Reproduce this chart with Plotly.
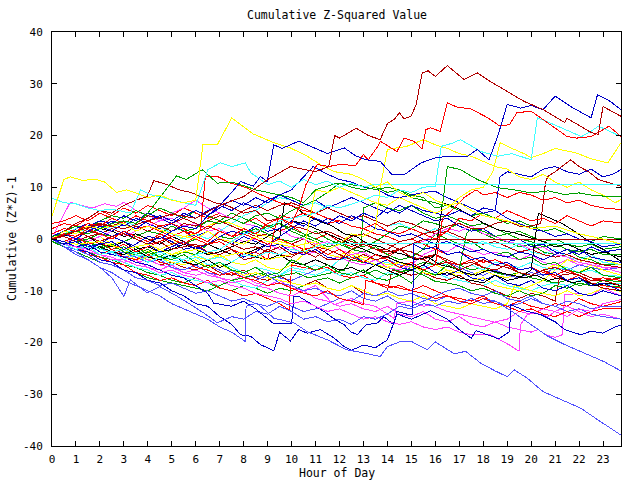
import plotly.graph_objects as go

# ---- colours (gnuplot-like palette) ----
RED = "#ff0000"
GREEN = "#00a000"
BLUE = "#0000c8"
MAGENTA = "#ff40ff"
CYAN = "#40ffff"
DRED = "#b00000"
YELLOW = "#ffff00"
BLACK = "#000000"
LBLUE = "#5050ff"

# ---- axis tick values ----
x_ticks = list(range(0, 24))
y_ticks = [-40, -30, -20, -10, 0, 10, 20, 30, 40]

# ---- series: [hour of day, cumulative (Z*Z)-1] ----
dred_peak = [[0,0],[1,1.5],[2,2.8],[3,2.0],[4,3.5],[5,4.8],[6,4.0],[7,6.5],[8,8.2],[9,11.5],[9.95,14],[10.5,13.4],[11,13],[11.55,14],[11.8,20],[12,19.5],[12.7,21.4],[13.2,20],[13.7,19.2],[14,22.3],[14.3,23.2],[14.5,24.4],[14.7,23.2],[15,23.8],[15.2,26],[15.45,32.1],[15.7,32.5],[16,31.4],[16.5,33.5],[17.2,30.8],[17.75,32.1],[18.2,30.7],[19,28.5],[19.7,26.6],[20.5,25],[21.4,22.5],[21.5,23.3],[22.5,20.6],[22.8,20.2],[23,25.6],[23.75,23.7]]
blue_top = [[0,0],[0.5,-1],[1,-0.5],[1.5,-2],[2,-1],[2.5,-0.5],[3,-2],[3.5,-1],[4,0.5],[4.5,0],[5,1.5],[5.5,2.5],[6,2],[6.5,4.5],[7,6.5],[7.5,9],[7.87,11.1],[8.4,10.2],[8.7,12.1],[8.98,11.1],[9.26,18.2],[9.6,17.5],[10.3,18.9],[10.86,17.8],[11.5,16.5],[12.2,17.6],[12.67,16.1],[13.1,15.3],[13.7,15],[14.2,12.4],[14.7,12.4],[15,13.4],[15.4,14.7],[16,15.7],[16.6,16],[17.35,16],[17.75,17.3],[18.24,15.3],[18.6,19.8],[19,26],[19.56,25.3],[20,25.8],[20.5,25],[21,27.6],[21.65,25.6],[22.5,23.4],[22.77,27.9],[23.3,26.6],[23.75,25]]
red_top = [[0,0],[0.5,1],[1,0.5],[1.5,2],[2,1],[2.5,0],[3,1.5],[3.5,0.5],[4,-0.5],[4.5,1],[5,0],[5.5,-1],[6,0.5],[6.5,-0.5],[7,1.5],[7.5,0.5],[8,2],[8.5,1],[9,3],[9.5,4],[10,3],[10.3,6],[10.6,10.5],[11.07,14.4],[11.55,14],[12,14.4],[12.67,14.2],[13,16.3],[13.2,15.3],[13.6,17.9],[13.7,18.9],[14.4,16.9],[14.7,19.5],[15.1,18.9],[15.45,17.4],[15.6,21.1],[15.8,21.5],[16.2,20.8],[16.5,26.3],[16.9,25.5],[17.5,25.1],[18.2,23.4],[18.7,21.8],[19.1,22.1],[19.4,24.4],[20,24.7],[20.4,23.4],[21.1,21.1],[21.5,19.8],[21.9,19.5],[22.5,19.8],[22.8,20.6],[23.25,21.8],[23.75,19.8]]
cyan_top = [[0,0],[0.5,-1],[1,-2],[1.5,-1.5],[2,-3],[2.5,-2.5],[3,-4],[3.5,-3],[4,-4.5],[4.5,-3.5],[5,-5],[5.5,-4],[6,-3],[7,-2],[7.5,-0.5],[8,1],[9,2],[9.5,3.5],[10,4],[11,5],[11.5,6.5],[12,6],[13,7.5],[13.5,8.5],[14,8],[14.5,9.5],[15,9],[15.5,10],[16,10.2],[16.25,17.9],[16.7,18.5],[17.05,19.2],[17.5,18],[17.9,16.9],[18.6,16],[19.2,16.5],[20,15.3],[20.26,23.4],[20.6,22.8],[21.1,21.8],[21.6,20.8],[22.1,19.8],[22.5,20.8],[22.8,21.8],[23.2,21],[23.75,19.8]]
cyan_flat_hi = [[0,7.9],[0.5,7],[1,6.8],[1.5,6],[2,5.5],[2.5,5.8],[3.27,5],[3.7,9.5],[4.1,8.6],[4.6,8],[5,7.5],[5.5,7],[6,6.5],[6.5,13.4],[7.03,14.7],[7.5,14],[8.07,14.7],[8.3,12.8],[8.7,11.5],[9,10.5],[9.5,11.2],[10,10],[10.5,11.5],[11,10.5],[11.5,11.2],[12,10],[12.5,10.8],[13,10],[13.4,10.5],[23.75,10.5]]
yellow_peak = [[0,4.5],[0.25,8],[0.5,11.5],[0.76,12],[1.3,11.3],[1.8,11.6],[2.2,11],[2.7,9],[3.1,9.5],[3.55,8.8],[4,8],[4.5,8.5],[5,7.5],[5.5,7],[6,7.5],[6.3,18.2],[6.9,18.2],[7.5,23.4],[8.07,21.5],[8.4,20.3],[9.26,18.6],[9.95,17.6],[10.65,16],[11.2,14.4],[11.8,13],[12.5,12.5],[13,11.5],[13.5,10],[14,11],[14.5,9],[15,8],[15.5,9],[16,7.5],[16.5,6.5],[17,7],[17.5,5.5],[18,4.5],[19,3.5],[20,2],[21,2.5],[22,1],[23,0],[23.75,-1]]
yellow_b = [[0,0],[0.5,1.5],[1,1],[1.5,2.5],[2,2],[3,3],[3.5,1.5],[4,2.5],[5,1],[6,0],[6.5,1.5],[7,0],[8,-1],[8.5,0.5],[9,-0.5],[10,-1.5],[11,-0.5],[11.5,-2],[12,-1],[12.5,1],[13,0.5],[13.5,2],[13.7,10],[14,17.3],[14.8,17.9],[15.5,19.2],[16,18.2],[16.5,17.5],[17,16.5],[17.5,16],[18,15],[18.5,14],[19,13.5],[19.5,12],[20,11.5],[20.5,12.5],[21,11],[21.5,10],[22,11],[22.5,9.5],[23,8.5],[23.5,7],[23.75,7.6]]
yellow_c = [[0,0],[1,-1],[2,-0.5],[3,-2],[4,-1],[5,-3],[6,-2],[7,-3.5],[8,-2.5],[9,-4],[10,-3],[10.5,-2.5],[10.8,5],[11,9.5],[11.5,9],[12,10],[12.5,9],[13,8],[13.5,7],[14,6.5],[14.5,8],[15,7],[15.5,6],[16,5],[16.5,6],[17,8],[17.5,9.5],[18,10],[18.4,13],[18.7,18.6],[19.2,17.5],[19.7,16.5],[20,15.7],[20.5,16.5],[21,17.5],[21.5,17],[21.9,16.6],[22.5,15.5],[23.2,14.7],[23.75,18.6]]
green_hi = [[0,0.5],[0.5,1],[1,1.5],[1.5,1],[2,2],[2.5,3],[3,3.5],[3.5,3],[4,5],[4.5,8],[5.2,12.2],[5.6,11.5],[6.27,13.4],[6.9,10.8],[7.5,11],[8.07,10.2],[8.5,9.5],[9,9],[9.5,8.5],[10,8],[10.5,7],[11,9.5],[11.9,10.8],[12.5,10.5],[13,10.2],[13.5,9.5],[14,10],[14.5,9.5],[15,8],[15.5,7.5],[16,7],[16.3,6.5],[16.5,14],[17.05,13.4],[17.75,11.5],[18.6,9.9],[19.3,9.5],[20,8.9],[20.7,9.3],[21.4,8.6],[22,8.9],[22.5,8.5],[23,8.3],[23.75,8.2]]
lblue_bottom = [[0,0],[0.5,-1.5],[1,-3],[1.5,-4],[2,-5.5],[2.5,-6.5],[3,-8],[3.5,-9],[4,-10],[4.5,-11],[5,-12.5],[5.5,-13.5],[6,-14.5],[6.5,-15.5],[7,-17],[7.5,-18],[8.07,-19.8],[8.1,-13],[8.56,-12.4],[9.26,-15.3],[10.1,-16.2],[10.65,-17.9],[11.5,-19.5],[12.3,-21.4],[13,-22],[13.7,-22.7],[14,-20.8],[14.55,-19.8],[15,-19.8],[15.66,-21.4],[16,-19.9],[16.8,-22.2],[17.26,-21.7],[17.9,-24],[18.5,-25.5],[19,-26.6],[19.3,-25.3],[19.84,-26.9],[20.5,-29.5],[21,-30.5],[21.4,-31.4],[22.07,-32.7],[22.77,-34.9],[23.3,-36.5],[23.75,-37.9]]
lblue_second = [[0,0],[0.5,-1.5],[1,-2.5],[1.5,-4],[2,-5.5],[2.5,-7.5],[3,-11.1],[3.27,-7.9],[3.6,-9],[3.97,-10.4],[4.5,-9.2],[5.2,-11],[5.9,-13],[6.4,-14.5],[6.9,-16.2],[7.5,-15],[8,-15.5],[8.5,-14],[9,-14.5],[9.5,-13],[10,-14],[10.5,-15.5],[11,-15],[11.5,-16],[12,-15.5],[12.5,-16.5],[13,-15],[13.5,-15.5],[14,-14.5],[14.5,-13],[15,-13.5],[15.5,-12.5],[16,-13],[16.5,-12],[17,-12.5],[17.5,-11.5],[18,-12.5],[18.5,-12],[19.2,-14],[20,-16.6],[20.7,-18.8],[21.4,-20.4],[22.07,-21.7],[23.04,-23.7],[23.75,-25.5]]
blue_low = [[0,0],[0.5,-1],[1,-2],[1.5,-2.5],[2,-4],[2.5,-4.5],[3,-6],[3.5,-6.5],[4,-8],[4.5,-8.5],[5,-10],[5.5,-11],[6,-12.5],[6.5,-13],[7,-15],[7.5,-16.5],[7.87,-18.5],[8.3,-18.8],[8.7,-20.4],[9.26,-21.6],[9.5,-18],[9.95,-19.7],[10.3,-17.5],[10.65,-18.2],[11.2,-17.5],[11.76,-19.1],[12.2,-20.8],[12.5,-21.5],[13,-20.5],[13.5,-21],[14,-19.5],[14.4,-14.5],[15,-15.5],[15.8,-13.9],[16.5,-15.5],[17,-17.5],[17.5,-19.2],[17.7,-17.7],[18.2,-18.5],[18.65,-19.3],[19.1,-17.9],[19.15,-12.7],[19.84,-14],[20.4,-14.6],[21,-16],[21.4,-17.5],[22.07,-18.5],[22.5,-17.8],[23,-18.2],[23.4,-17.2],[23.75,-16.6]]
blue_mid_low = [[0,0],[0.5,-0.5],[1,-1.5],[1.5,-1],[2,-2.5],[2.5,-3],[3,-3.5],[3.5,-4.5],[4,-5],[4.5,-6],[5,-7],[5.5,-7.5],[6,-9],[6.5,-10.5],[6.75,-12.4],[7.5,-13],[8,-12],[8.5,-13.5],[9.26,-16.4],[10,-16.4],[10.1,-11.1],[10.3,-11.1],[10.8,-12.5],[11.35,-14],[11.8,-15.5],[12.2,-16.6],[12.46,-17.9],[12.74,-18.5],[13.1,-16.6],[13.6,-16.2],[13.85,-15],[14.27,-16.6],[14.4,-14],[14.8,-14.5],[15.05,-14.5],[15.1,-1],[15.5,-2],[16,-1.5],[16.5,-3],[17,-2.5],[17.5,-4],[18,-3.5],[18.5,-5],[19,-4.5],[19.5,-6],[20,-5.5],[20.5,-7],[21,-6.5],[21.5,-8],[22,-7.5],[22.5,-9],[23,-8.5],[23.75,-10]]
magenta_low = [[0,0],[0.5,-1],[1,-1.5],[1.5,-2.5],[2,-3],[2.5,-4],[3,-4],[3.5,-5],[4,-5.5],[4.5,-6.5],[5,-6],[5.5,-7],[6,-7.5],[6.5,-8.5],[7,-8],[7.5,-9],[8,-9.5],[8.5,-10.5],[9,-11],[9.5,-11.5],[10,-12.5],[10.5,-12],[11,-13],[11.5,-14],[12,-13.5],[12.5,-14.5],[13,-15.5],[13.5,-15],[14,-16],[14.5,-16.5],[15,-16],[15.5,-17],[16,-17.5],[16.5,-17],[17,-18],[17.5,-18.5],[18.3,-18.5],[18.7,-19.5],[19.1,-20.5],[19.5,-21.7],[19.55,-16.6],[19.84,-14.6],[20.2,-14.3],[20.7,-15],[21,-14],[21.5,-15],[22,-13.5],[22.5,-14],[23,-12.5],[23.75,-11.7]]
cyan_flat_zero = [[0,0],[0.5,-0.5],[1,-1.5],[1.5,-1],[2,-2],[2.5,-2.5],[3,-2],[3.5,-3],[4,-3.5],[4.5,-2.5],[5,-3.5],[5.5,-4],[6,-3],[6.5,-4],[7,-3.5],[7.5,-4.5],[8,-3],[8.5,-3.5],[9,-2.5],[9.5,-3],[10,-2],[10.5,-2.5],[11,-1.5],[11.5,-0.8],[23.75,-0.8]]
dred_flat_zero = [[0,0],[0.5,0.5],[1,-0.5],[1.5,0.5],[2,1],[2.5,0],[3,1.5],[3.5,0.5],[4,-0.5],[4.5,0.5],[5,-1],[5.5,-0.5],[6,-1.5],[6.5,-1],[7,0],[7.5,-1],[8,-2],[8.5,-1.5],[9,-2.5],[9.5,-1.5],[10,-3],[10.5,-2.5],[11,-3.5],[11.5,-2],[12,-3],[12.5,-4],[13,-3],[13.5,-4],[14,-3.5],[14.5,-2],[15,-1],[15.5,-0.1],[23.75,-0.1]]
blue_end13 = [[0,0],[0.5,-1],[1,0],[1.5,-1.5],[2,-1],[2.5,0.5],[3,-0.5],[3.5,-1.5],[4,-1],[4.5,-2.5],[5,-1.5],[5.5,-0.5],[6,-2],[6.5,-1],[7,0.5],[7.5,1.5],[8,1],[8.5,2.5],[9,1.5],[9.5,2],[10,3.5],[10.5,2.5],[11,4],[11.5,3],[12,4.5],[12.5,3.5],[13,5],[13.5,4],[14,6],[14.5,5],[15,6.5],[15.5,5.5],[16,5],[16.5,4.5],[17,5.5],[17.5,4.5],[18,6],[18.5,5.5],[18.7,12],[19,13],[19.5,12.5],[20,12],[20.5,13.5],[21,14],[21.5,13],[22,12.5],[22.5,13.5],[23,12],[23.4,12.5],[23.75,13.4]]
dred_end10 = [[0,0],[0.5,1],[1,1.5],[1.5,0.5],[2,-0.5],[2.5,0.5],[3,1],[3.5,0],[4,-1],[4.5,-0.5],[5,-2],[5.5,-1.5],[6,-1],[6.5,-2.5],[7,-3],[7.5,-2],[8,-4],[8.5,-3.5],[9,-2],[9.5,-3],[10,-3.5],[10.5,-2],[11,-2.5],[11.5,-4],[12,-4],[12.5,-2],[13,-1],[13.5,-2],[14,-2],[14.5,-0.5],[15,0],[15.5,1],[16,1.5],[16.5,2.5],[17,3],[17.5,2],[18,2],[18.5,3],[19,3.5],[19.5,2.5],[20,2.5],[20.4,3],[20.6,11],[20.7,12.1],[21,13],[21.65,15.3],[22,14],[22.4,13],[22.8,11.5],[23.3,10.8],[23.75,10.2]]
red_end57 = [[0,3],[0.5,3.5],[1,4.5],[1.5,3.5],[2,5],[2.5,4],[3,3],[3.5,4.5],[4,3.5],[4.5,2.5],[5,3],[5.5,2],[6,1],[6.5,2.5],[7,1.5],[7.5,0.5],[8,1],[8.5,0],[9,-1],[9.5,0],[10,-1],[10.5,-2],[11,-1.5],[11.5,-3],[12,-2],[12.5,-3.5],[13,-4.5],[13.5,-3],[14,-4],[14.5,-5.5],[15,-4.5],[15.5,-6],[16,-5],[16.3,4],[16.8,6],[17.2,8],[17.7,9.5],[18,8.5],[18.5,9],[19,8],[19.5,9],[20,8.5],[20.5,7.5],[21,8],[21.5,7],[22,7.5],[22.5,6.5],[23,6],[23.75,5.7]]
red_end3 = [[0,1],[0.5,2],[1,1.5],[1.5,3],[2,2.5],[2.5,4],[3,3],[3.5,2],[4,2.5],[4.5,1.5],[5,0.5],[5.5,1.5],[6,0],[6.5,-1],[7,-0.5],[7.5,-2],[8,-3],[8.5,-2.5],[9,-4],[9.3,2],[9.5,4.5],[10,4],[10.5,5],[11,4],[11.5,3],[12,3.5],[12.5,2.5],[13,2],[13.5,3],[14,1.5],[14.5,1],[15,2],[15.5,1],[16,0],[16.5,1.5],[17,4],[17.5,3.5],[18,5],[18.5,4],[19,5.5],[19.5,4.5],[20,3.5],[20.5,4],[21,3],[21.5,4.5],[22,3.5],[22.5,2.5],[23,3.5],[23.75,3.1]]
green_end_m3 = [[0,-0.5],[0.5,-1],[1,0],[1.5,-0.5],[2,-2],[2.5,-1],[3,-2.5],[3.5,-3],[4,-2],[4.5,-3.5],[5,-4],[5.5,-3],[6,-4.5],[6.5,-5.5],[7,-4.5],[7.5,-6],[8,-6.5],[8.5,-5.5],[9,-7],[9.5,-6.5],[10,-4],[10.5,-5],[11,-6],[11.5,-5],[12,-6.5],[12.5,-7],[13,-6],[13.5,-7.5],[14,-8],[14.5,-7],[15,-8.5],[15.5,-6],[16,-7],[16.5,-5],[17,-6],[17.3,1],[17.5,2],[18,1.5],[18.5,0.5],[19,1],[19.5,0],[20,-0.5],[20.5,-1.5],[21,-1],[21.5,-2],[22,-2.5],[22.5,-2],[23,-3],[23.75,-3]]
black1 = [[0,0],[0.5,0.5],[1,-0.5],[1.5,0.5],[2,-1],[2.5,-1.5],[3,-0.5],[3.5,-2],[4,-1.5],[4.5,-2.5],[5,-2],[5.5,-1],[6,-2],[6.5,-3],[7,-2.5],[7.5,-1.5],[8,-0.5],[8.5,-1],[9,0.5],[9.5,2],[10,3.5],[10.5,3],[11,2],[11.5,1],[12,0],[12.5,-1],[13,-2],[13.5,-3],[14,-3.5],[14.5,-4.5],[15,-5],[15.5,-6],[16,-7],[16.5,-6.5],[17,-7.5],[17.5,-8],[18,-8.5],[18.5,-7],[19,-8],[19.5,-7.5],[20,-6],[20.3,5],[20.8,4],[21.3,3],[21.8,1.5],[22.5,-0.7],[23,-2],[23.5,-3.5],[23.75,-4.3]]
black2 = [[0,0],[0.5,-1],[1,-0.5],[1.5,-2],[2,-1.5],[2.5,-2.5],[3,-3],[3.5,-2],[4,-3.5],[4.5,-4],[5,-3],[5.5,-4.5],[6,-5],[6.5,-4],[7,-5.5],[7.5,-4.5],[8,-3],[8.5,-2],[9,-1],[9.5,0],[9.7,7],[10.2,6],[10.65,4.4],[11.2,3.4],[11.7,2.5],[12.2,1],[12.7,0.5],[13.2,-1],[13.7,-1.5],[14.2,-2.5],[14.7,-3],[15.2,-4],[15.7,-3.5],[16.2,-5],[16.7,-5.5],[17.2,-6.5],[17.7,-7],[18.2,-6],[18.7,-6.5],[19.2,-7],[19.7,-7.5],[20.2,-7],[20.7,-8],[21.2,-7.5],[21.7,-8.5],[22.2,-8],[22.7,-9],[23.2,-8.5],[23.75,-9]]
black3 = [[0,0],[0.5,0.5],[1,1.5],[1.5,1],[2,2],[2.5,1.5],[3,0.5],[3.5,1],[4,0],[4.5,-1],[5,0.5],[5.5,-0.5],[6,-1.5],[6.5,-1],[7,-2],[7.5,-3],[8,-2.5],[8.5,-3.5],[9,-4],[9.5,-3],[10,-4.5],[10.5,-5],[11,-4],[11.5,-5],[12,-6],[12.5,-5.5],[13,-6.5],[13.5,-5],[14,-6],[14.5,-7],[15,-6],[15.5,-5],[16,-3],[16.3,7],[16.9,6],[17.5,4.4],[18,3.1],[18.6,1.8],[19.3,1.2],[20,0.2],[20.5,-0.5],[21,-1.5],[21.5,-1],[22,-2],[22.5,-3],[23,-2.5],[23.75,-3.5]]
magenta_m56 = [[0,0],[0.3,3],[0.76,7.1],[1.2,6.5],[1.7,6],[2.2,6.8],[2.7,6.3],[3,7.1],[3.5,5.5],[4.1,4.4],[4.5,3.5],[5,4],[5.5,2.5],[6,3],[6.5,1.5],[7,2],[7.5,0.5],[8,-0.5],[8.5,0],[9,-1],[9.5,-2],[10,-1.5],[10.5,-3],[11,-2.5],[11.5,-4],[12,-3.5],[12.5,-4.5],[13,-5],[13.5,-4],[14,-5.5],[14.5,-6],[15,-5],[15.5,-3],[16,-2],[16.5,-2.5],[17,-1],[17.5,-2],[18,-3],[18.5,-2.5],[19,-3.5],[19.5,-4],[20,-3],[20.5,-4.5],[21,-5],[21.5,-4],[22,-5],[22.5,-4.5],[23,-5.5],[23.75,-5.6]]
magenta_b = [[0,0],[0.5,-1],[1,0.5],[1.5,-0.5],[2,0.5],[2.5,1.5],[3,0.5],[3.5,1.5],[4,2.5],[4.5,3.5],[5,5],[5.5,6],[6,7.5],[6.5,6],[7,5],[7.5,4],[8,3],[8.5,2.5],[9,1.5],[9.5,2],[10,0.5],[10.5,0],[11,-1],[11.5,-0.5],[12,-2],[12.5,-3],[13,-2.5],[13.5,-4],[14,-3.5],[14.5,-2],[15,-1],[15.5,-0.5],[16,1],[16.5,2],[17,1.5],[17.5,2.5],[18,1],[18.5,0.5],[19,-0.5],[19.5,-1],[20,-2],[20.5,-1.5],[21,-3],[21.5,-3.5],[22,-4.5],[22.5,-5],[23,-5.5],[23.75,-6.5]]
cyan_m72 = [[0,0],[0.5,-0.5],[1,-1],[1.5,-2],[2,-1.5],[2.5,-2.5],[3,-3],[3.5,-2.5],[4,-3.5],[4.5,-3],[5,-4],[5.5,-4.5],[6,-3.5],[6.5,-5],[7,-4.5],[7.5,-5.5],[8,-6.5],[8.5,-5.5],[9,-6],[9.5,-7],[10,-5.5],[10.5,-6],[11,-5],[11.5,-6],[12,-7],[12.5,-6.5],[13,-7.5],[13.5,-8],[14,-6.5],[14.5,-7],[15,-6],[15.5,-5.5],[16,-4.5],[16.5,-5],[17,-6],[17.5,-5],[18,-6],[18.5,-4.5],[19,-5],[19.5,-5.5],[20,-4.5],[20.5,-5.5],[21,-6],[21.5,-5.5],[22,-6.5],[22.5,-6],[23,-7],[23.75,-7.2]]
green_m93 = [[0,0],[0.5,-1],[1,-2],[1.5,-2.5],[2,-3.5],[2.5,-4],[3,-5],[3.5,-5.5],[4,-6.5],[4.5,-7],[5,-8],[5.5,-8.5],[6,-7.5],[6.5,-8.5],[7,-9.5],[7.5,-10],[8,-9],[8.5,-9.5],[9,-10.5],[9.5,-9.5],[10,-10],[10.5,-9],[11,-8],[11.5,-7.5],[12,-8.5],[12.5,-7.5],[13,-7],[13.5,-6],[14,-7],[14.5,-6.5],[15,-5.5],[15.5,-4.5],[16,-5],[16.5,-4],[17,-5],[17.5,-6],[18,-5.5],[18.5,-6.5],[19,-7],[19.5,-6.5],[20,-7.5],[20.5,-8],[21,-8.5],[21.5,-8],[22,-9],[22.5,-8.5],[23,-9],[23.75,-9.3]]
green2 = [[0,-0.5],[0.5,-1.5],[1,-2.5],[1.5,-3.5],[2,-4.5],[2.5,-5],[3,-6],[3.5,-6.5],[4,-7.5],[4.5,-8],[5,-8.5],[5.5,-9],[6,-9.5],[6.5,-10],[7,-9],[7.5,-8],[8,-7.5],[8.7,-6.6],[9.2,-7.5],[9.7,-7],[10.2,-6.5],[10.7,-7.5],[11.2,-7],[11.7,-6.5],[12.2,-6],[12.46,-4],[13,-4.5],[13.5,-5],[14,-5.5],[14.55,-6.3],[15,-6],[15.5,-7],[16,-8.2],[16.5,-8.5],[17,-9],[17.5,-10],[18,-9.5],[18.5,-10.5],[19,-11],[19.5,-10],[20,-11],[20.5,-10.5],[21,-9],[21.5,-9.5],[22,-8.5],[22.5,-9],[23,-8],[23.75,-8.2]]
yellow_m10 = [[0,0],[0.5,-0.5],[1,-1.5],[1.5,-1],[2,-2],[2.5,-2.5],[3,-2],[3.5,-3.5],[4,-4],[4.5,-3.5],[5,-4.5],[5.5,-5],[6,-4],[6.5,-5.5],[7,-5],[7.5,-6],[8,-7],[8.5,-6.5],[9,-7.5],[9.5,-8],[10,-8.5],[10.5,-9],[11,-8.5],[11.5,-9.5],[12,-10],[12.5,-9],[13,-10],[13.5,-11],[14,-10.5],[14.5,-11.5],[15,-12],[15.5,-11],[16,-12.5],[16.5,-13],[17,-13.5],[17.5,-12.5],[18,-13],[18.5,-13.5],[19,-12.5],[19.3,-9],[19.7,-9.5],[20,-10],[20.5,-10.5],[21,-11],[21.5,-10],[22,-11],[22.5,-10.5],[23,-9.5],[23.75,-10.1]]
red_m12 = [[0,0],[0.5,-1],[1,-1.5],[1.5,-3],[2,-3.5],[2.5,-4.5],[3,-5],[3.5,-6.5],[4,-7],[4.5,-8],[5,-7.5],[5.5,-8.5],[6,-9],[6.5,-8],[7,-9.5],[7.5,-10],[8,-11],[8.5,-10.5],[9,-11.5],[9.5,-12.5],[9.9,-13.7],[10,-5],[10.5,-5.5],[11,-6],[11.5,-5.5],[12,-7],[12.5,-7.5],[13,-7],[13.5,-8.5],[14,-9],[14.5,-9.5],[15,-10],[15.5,-9],[16,-10],[16.5,-11],[17,-11.5],[17.5,-12],[18,-11],[18.5,-12.5],[19,-13],[19.5,-12],[20,-13],[20.5,-13.5],[21,-12.5],[21.5,-13],[22,-11.5],[22.5,-12.5],[23,-13],[23.75,-12.1]]
lblue_m13 = [[0,0],[0.5,-1.5],[1,-2],[1.5,-3],[2,-4.5],[2.5,-5],[3,-6],[3.5,-7.5],[4,-8],[4.5,-9],[5,-8.5],[5.5,-9.5],[6,-10.5],[6.5,-10],[7,-11],[7.5,-12],[8,-11.5],[8.5,-12.5],[9,-13],[9.5,-12],[10,-13],[10.5,-14],[11,-13.5],[11.5,-12.5],[12,-11.5],[12.5,-12],[13,-10.5],[13.5,-11],[14,-10],[14.5,-11],[15,-10.5],[15.5,-11.5],[16,-12],[16.5,-11],[17,-12],[17.5,-12.5],[18,-11.5],[18.5,-12],[19,-13],[19.5,-12.5],[20,-11.5],[20.5,-12.5],[21,-13],[21.5,-12],[22,-12.5],[22.5,-13.5],[23,-13],[23.75,-13]]
blue_m2 = [[0,0.5],[0.5,1.5],[1,1],[1.5,2.5],[2,1.5],[2.5,0.5],[3,1.5],[3.5,0],[4,-1],[4.5,0.5],[5,-0.5],[5.5,-2],[6,-1.5],[6.5,-2.5],[7,-3],[7.5,-2],[8,-3.5],[8.5,-2.5],[9,-1],[9.5,0.5],[10,2],[10.5,3.5],[11,2.5],[11.5,4],[12,3],[12.5,4.5],[13,3.5],[13.5,2],[14,1.5],[14.5,0.5],[15,1],[15.5,0],[16,-1],[16.5,-0.5],[17,-1.5],[17.5,-2.5],[18,-2],[18.5,-3],[19,-3.5],[19.5,-2.5],[20,-3],[20.5,-4],[21,-3],[21.5,-2],[22,-3],[22.5,-1.5],[23,-2.5],[23.75,-2]]
blue_c = [[0,0],[0.5,1],[1,0],[1.5,1.5],[2,2.5],[2.5,1.5],[3,3],[3.5,2],[4,3.5],[4.5,4.5],[5,3.5],[5.5,5],[6,4],[6.5,5.5],[7,6.5],[7.5,5.5],[8,7],[8.5,6],[9,7.5],[9.5,8.5],[10,9.5],[10.5,12],[10.9,14],[11.5,12.5],[12,11.5],[12.5,11],[13,10],[13.6,9.5],[14,8.5],[14.4,7.9],[15,8.5],[15.5,9],[16,9.2],[16.5,8],[17,7],[17.5,6],[18,5],[18.5,5.5],[19,4],[19.5,3],[20,2],[20.5,1.5],[21,0.5],[21.5,1],[22,0],[22.5,-0.5],[23,-1.5],[23.75,-1]]
green_mid = [[0,0],[0.5,0.5],[1,-0.5],[1.5,0],[2,1],[2.5,0.5],[3,-0.5],[3.5,0.5],[4,1.5],[4.5,1],[5,2.5],[5.5,1.5],[6,2],[6.5,3.5],[7,3],[7.5,4],[8,3],[8.5,4.5],[9,5],[9.5,4],[10,5.5],[10.5,6.5],[11,7.5],[11.5,9],[12,10.8],[12.5,10],[13,9.5],[13.5,10],[14,9],[14.5,9.5],[15,8.5],[15.5,8],[16,6],[16.5,6.5],[17,5.5],[17.5,4.5],[18,5],[18.5,4],[19,3],[19.5,3.5],[20,2.5],[20.5,1.5],[21,2],[21.5,1],[22,0],[22.5,-0.5],[23,0.5],[23.75,0]]
red_b = [[0,0],[0.5,-0.5],[1,0.5],[1.5,-1],[2,-0.5],[2.5,-2],[3,-1],[3.5,-2.5],[4,-1.5],[4.5,-0.5],[5,0.5],[5.5,1.5],[6,1],[6.2,1.8],[6.4,12.1],[6.9,12.1],[7.45,10.8],[8.07,10],[8.5,9],[9,8],[9.5,7],[10,6.5],[10.5,5.5],[11,5],[11.5,4],[12,3.5],[12.5,2.5],[13,2],[13.5,1],[14,0.5],[14.5,-0.5],[15,0],[15.5,-1],[16,-2],[16.5,-3],[17,-2.5],[17.5,-3.5],[18,-4.5],[18.5,-4],[19,-5],[19.5,-6],[20,-5.5],[20.5,-6.5],[21,-7],[21.5,-6],[22,-7],[22.5,-8],[23,-7.5],[23.75,-8]]
dred_hump = [[0,0],[0.5,1.5],[1,3],[1.5,4],[2,5.5],[2.5,5],[3,6.5],[3.5,7.5],[3.97,8.2],[4.25,11.3],[4.8,10.5],[5.3,9.5],[5.8,9],[6.3,8],[6.8,7],[7.3,6.5],[8,5],[8.5,5.5],[9,3.5],[9.5,4],[10,2.5],[10.5,2],[11,1],[11.5,1.5],[12,0.5],[12.5,-0.5],[13,-1],[13.5,-2],[14,-2.5],[14.5,-2],[15,-3.5],[15.5,-4],[16,-5],[16.5,-4.5],[17,-6],[17.5,-5],[18,-4],[18.5,-5],[19,-5.5],[19.5,-6.5],[20,-7],[20.5,-6],[21,-5.5],[21.5,-6.5],[22,-7],[22.5,-8],[23,-8],[23.75,-9]]
dred_low = [[0,0],[0.5,-1],[1,-1.5],[1.5,-1],[2,-2.5],[2.5,-3],[3,-2],[3.5,-3.5],[4,-4],[4.5,-5],[5,-4.5],[5.5,-5.5],[6,-6],[6.5,-5],[7,-6.5],[7.5,-7],[8,-6],[8.5,-7.5],[9,-8],[9.5,-7],[10,-8.5],[10.5,-9],[11,-8],[11.5,-9.5],[12,-10],[12.5,-9],[13,-10.5],[13.5,-11],[14,-10],[14.2,-6],[15,-7],[15.5,-6.5],[16,-7.5],[16.5,-8],[17,-7],[17.5,-8.5],[18,-9],[18.5,-10],[19,-11],[19.5,-11.5],[20,-10.5],[20.5,-11],[21,-12],[21.2,-7],[22,-6.5],[22.5,-7.5],[23,-8],[23.75,-7.5]]
magenta_c = [[0,0],[0.5,-1],[1,-2],[1.5,-1.5],[2,-3],[2.5,-3.5],[3,-4.5],[3.5,-4],[4,-5.5],[4.5,-6],[5,-5],[5.5,-6.5],[6,-7],[6.5,-6.5],[7,-7.5],[7.5,-8],[8,-7],[8.5,-8.5],[9,-9],[9.5,-8],[10,-9.5],[10.5,-10],[11,-9],[11.76,-12.7],[12.5,-11.5],[13,-12.5],[13.5,-13],[14.27,-15.3],[14.4,-12.4],[15,-12],[15.5,-13],[15.8,-12.7],[16.5,-14],[17,-14.5],[17.5,-15],[18,-15.5],[18.6,-16.2],[19,-17],[19.5,-17.5],[20,-18],[20.3,-17.5],[20.6,-18.5],[21,-19],[21.3,-18.5],[21.4,-10.8],[22,-10.5],[22.5,-11],[23,-9.5],[23.75,-11]]
cyan_c = [[0,0],[0.5,-1],[1,-1.5],[1.5,-2.5],[2,-3],[2.5,-4],[3,-4.5],[3.5,-5.5],[4,-6],[4.5,-7],[5,-6.5],[5.5,-7.5],[6,-8],[6.5,-8.5],[7,-9],[7.5,-8],[8,-9],[8.5,-9.5],[9,-8],[9.5,-7],[10,-6],[10.5,-6.5],[11,-7],[11.5,-6],[12,-4],[12.5,-3.5],[13,-4],[13.5,-5],[14,-4.5],[14.5,-5.5],[15,-6],[15.5,-7],[16,-6.5],[16.5,-7.5],[17,-8],[17.5,-8.5],[18,-9],[18.5,-8],[19,-9],[19.5,-9.5],[20,-10],[20.5,-9],[21,-8.5],[21.5,-9],[22,-8],[22.5,-8.5],[23,-9],[23.75,-8.5]]
lblue_c = [[0,0],[0.5,-0.5],[1,-1],[1.5,-2],[2,-1.5],[2.5,-2.5],[3,-3.5],[3.5,-3],[4,-4],[4.5,-5],[5,-4.5],[5.5,-5.5],[6,-6],[6.5,-5],[7,-6],[7.5,-7],[8,-6.5],[8.5,-7.5],[9,-6.5],[9.5,-7.5],[10,-8],[10.5,-7],[11,-6],[11.5,-5],[12,-6],[12.5,-5.5],[13,-6.5],[13.5,-5],[14,-4],[14.5,-5],[15,-5.5],[15.5,-6],[16,-5],[16.5,-4.5],[17,-5.5],[17.5,-6.5],[18,-7],[18.5,-6],[19,-7],[19.5,-7.5],[20,-6.5],[20.5,-7],[21,-5.5],[21.5,-6],[22,-5],[22.5,-5.5],[23,-6],[23.75,-5.5]]
yellow_d = [[0,0],[0.5,1],[1,0.5],[1.5,-0.5],[2,0.5],[2.5,-1],[3,-0.5],[3.5,-1.5],[4,-2.5],[4.5,-2],[5,-3],[5.5,-2],[6,-3.5],[6.5,-4],[7,-3],[7.5,-4.5],[8,-5],[8.5,-4],[9,-5.5],[9.5,-6],[10,-5],[10.5,-3],[11,-1],[11.5,-2],[12,-3],[12.5,-2.5],[13,-3.5],[13.5,-4],[14,-5],[14.5,-4.5],[15,-5.5],[15.5,-6],[16,-5],[16.5,-6],[17,-6.5],[17.5,-7],[18,-6],[18.5,-7],[19,-7.5],[19.5,-6.5],[20,-7],[20.5,-6],[21,-5],[21.5,-5.5],[22,-6.5],[22.5,-5],[23,-6],[23.75,-7]]
red_c = [[0,2],[0.5,3],[1,2.5],[1.5,4],[2,5.5],[2.5,4.5],[3,6],[3.5,5],[4,6.5],[4.5,5.5],[5,4.5],[5.5,6],[6,5],[6.5,4],[7,5],[7.5,4],[8,3],[8.5,4],[9,2.5],[9.5,1.5],[10,2.5],[10.5,1],[11,0],[11.5,1],[12,-0.5],[12.5,-1.5],[13,-0.5],[13.5,-2],[14,-3],[14.5,-2],[15,-3.5],[15.5,-4],[16,-3],[16.5,-4.5],[17,-5],[17.5,-4],[18,-5.5],[18.5,-6],[19,-5],[19.5,-6.5],[20,-7],[20.5,-6],[21,-7.5],[21.5,-8],[22,-7],[22.5,-8.5],[23,-9],[23.75,-9.5]]
green_c = [[0,0],[0.5,1.5],[1,2.5],[1.5,2],[2,3.5],[2.5,4.5],[3,4],[3.5,5.5],[4,4.5],[4.5,6],[5,5],[5.5,4],[6,5.5],[6.5,4.5],[7,3.5],[7.5,5],[8,4],[8.5,3],[9,2],[9.5,3],[10,1.5],[10.5,0.5],[11,1.5],[11.5,0],[12,-1],[12.5,0],[13,-1.5],[13.5,-0.5],[14,1],[14.5,2.5],[15,2],[15.5,3.5],[16,3],[16.5,2],[17,3],[17.5,2],[18,1],[18.5,0],[19,-0.5],[19.5,-1.5],[20,-1],[20.5,-2.5],[21,-3],[21.5,-2],[22,-3.5],[22.5,-4],[23,-5],[23.75,-5]]
blue_d = [[0,0],[0.5,0.5],[1,2],[1.5,3],[2,2],[2.5,3.5],[3,2.5],[3.5,4],[4,3],[4.5,2],[5,3],[5.5,1.5],[6,0.5],[6.5,1.5],[7,0],[7.5,-1],[8,0.5],[8.5,-0.5],[9,-1.5],[9.5,-1],[10,-2.5],[10.5,-3],[11,-2],[11.5,-3.5],[12,-4],[12.5,-3],[13,-4.5],[13.5,-5],[14,-4],[14.5,-5.5],[15,-6],[15.5,-5],[16,-6.5],[16.5,-7],[17,-6],[17.5,-7.5],[18,-8],[18.5,-7],[19,-8.5],[19.5,-9],[20,-8],[20.5,-9.5],[21,-10],[21.5,-9],[22,-10.5],[22.5,-11],[23,-10],[23.75,-11]]
magenta_d = [[0,0],[0.5,-0.5],[1,-1.5],[1.5,-2],[2,-3],[2.5,-2.5],[3,-3.5],[3.5,-4.5],[4,-4],[4.5,-5],[5,-5.5],[5.5,-6.5],[6,-6],[6.5,-7],[7,-7.5],[7.5,-8.5],[8,-8],[8.5,-9],[9,-9.5],[9.5,-10.5],[10,-11],[10.5,-10],[11,-11.5],[11.5,-12],[12,-13],[12.5,-12.5],[13,-13.5],[13.5,-14],[14,-13],[14.5,-14.5],[15,-15],[15.5,-14],[16,-15.5],[16.5,-16],[17,-15],[17.5,-16.5],[18,-17],[18.5,-16],[19,-15.5],[19.5,-14],[20,-14.5],[20.5,-13.5],[21,-14],[21.5,-13],[22,-14],[22.5,-15],[23,-14.5],[23.75,-15.5]]
cyan_d = [[0,0],[0.5,1],[1,2],[1.5,1.5],[2,3],[2.5,2],[3,3.5],[3.5,2.5],[4,1.5],[4.5,2.5],[5,1],[5.5,0],[6,1],[6.5,0],[7,1.5],[7.5,3],[8,4.5],[8.5,5.5],[9,7],[9.5,8],[10,7.5],[10.5,6.5],[11,7],[11.5,6],[12,5],[12.5,4],[13,4.5],[13.5,3.5],[14,2.5],[14.5,3],[15,2],[15.5,1],[16,2],[16.5,1],[17,0],[17.5,-1],[18,-0.5],[18.5,-1.5],[19,-2],[19.5,-1],[20,-2.5],[20.5,-3],[21,-2],[21.5,-3.5],[22,-4],[22.5,-3],[23,-4.5],[23.75,-5]]
yellow_e = [[0,0],[0.5,-1],[1,-1.5],[1.5,-1],[2,-2.5],[2.5,-3],[3,-2.5],[3.5,-4],[4,-3.5],[4.5,-2],[5,-1],[5.5,0.5],[6,1],[6.5,2.5],[7,3.5],[7.5,3],[8,2],[8.5,1],[9,0.5],[9.5,-0.5],[10,-1],[10.5,-2],[11,-1.5],[11.5,-3],[12,-3.5],[12.5,-3],[13,-4],[13.5,-5],[14,-5.5],[14.5,-4.5],[15,-5],[15.5,-6.5],[16,-7],[16.5,-6],[17,-7.5],[17.5,-8],[18,-7.5],[18.5,-9],[19,-9.5],[19.5,-10],[20,-9],[20.5,-8],[21,-6],[21.5,-4],[22,-4.5],[22.5,-3.5],[23,-4],[23.75,-5]]
dred_e = [[0,0],[0.5,0.5],[1,1.5],[1.5,2.5],[2,3],[2.5,2.5],[3,3.5],[3.5,3],[4,4.5],[4.5,4],[5,3],[5.5,4],[6,3],[6.5,2],[7,3.5],[7.5,2.5],[8,1.5],[8.5,0.5],[9,1],[9.5,0],[10,-1],[10.5,0],[11,-1.5],[11.5,-2],[12,-1],[12.5,0.5],[13,1],[13.5,0],[14,-1],[14.5,-2],[15,-2.5],[15.5,-3.5],[16,-3],[16.5,-4],[17,-5],[17.5,-4.5],[18,-5.5],[18.5,-6],[19,-5],[19.5,-6.5],[20,-7],[20.5,-6],[21,-7],[21.5,-8],[22,-7.5],[22.5,-8.5],[23,-9.5],[23.75,-10]]
lblue_e = [[0,0],[0.5,-1],[1,-0.5],[1.5,-2],[2,-1.5],[2.5,-3],[3,-2.5],[3.5,-3.5],[4,-4.5],[4.5,-4],[5,-5.5],[5.5,-6],[6,-5],[6.5,-6.5],[7,-7],[7.5,-6],[8,-7.5],[8.5,-8],[9,-7],[9.5,-8.5],[10,-9],[10.5,-10],[11,-9.5],[11.5,-10.5],[12,-11],[12.5,-10],[13,-11.5],[13.5,-12],[14,-11],[14.5,-12.5],[15,-13],[15.5,-12],[16,-11],[16.5,-10],[17,-9.5],[17.5,-10.5],[18,-11],[18.5,-10],[19,-11.5],[19.5,-12],[20,-11],[20.5,-12.5],[21,-13],[21.5,-14],[22,-13.5],[22.5,-14.5],[23,-15],[23.75,-15.5]]
green_f = [[0,0],[0.5,-0.5],[1,0.5],[1.5,-0.5],[2,-1.5],[2.5,-1],[3,-2],[3.5,-1.5],[4,-3],[4.5,-2.5],[5,-3.5],[5.5,-2.5],[6,-3],[6.5,-1],[7,0.5],[7.5,0],[8,1.5],[8.5,1],[9,2.5],[9.5,3],[10,2],[10.5,1],[11,0],[11.5,-1],[12,-0.5],[12.5,-2],[13,-2.5],[13.5,-1.5],[14,-3],[14.5,-4],[15,-3.5],[15.5,-2],[16,1],[16.5,0],[17,-1],[17.5,-0.5],[18,-2],[18.5,-3],[19,-2.5],[19.5,-4],[20,-3.5],[20.5,-5],[21,-4.5],[21.5,-6],[22,-6.5],[22.5,-5.5],[23,-7],[23.75,-7.5]]
red_f = [[0,0],[0.5,-1],[1,-2],[1.5,-1.5],[2,-3],[2.5,-2],[3,-3.5],[3.5,-4],[4,-3],[4.5,-4.5],[5,-5],[5.5,-4],[6,-5.5],[6.5,-6],[7,-7],[7.5,-6.5],[8,-7.5],[8.5,-8],[9,-9],[9.5,-8.5],[10,-9.5],[10.5,-10.5],[11,-11],[11.5,-10],[12,-11.5],[12.5,-12],[13,-12.7],[13.1,-8],[13.5,-8.5],[14,-9.5],[14.5,-9],[15,-10],[15.5,-10.5],[16,-11.5],[16.5,-11],[17,-12],[17.5,-12.5],[18,-11.5],[18.5,-12.5],[19,-13],[19.5,-14],[20,-13.5],[20.5,-14.5],[21,-15],[21.5,-14],[22,-15],[22.5,-14],[23,-13.5],[23.75,-13.5]]
blue_e = [[0,0],[0.5,1.5],[1,1],[1.5,2.5],[2,3.5],[2.5,3],[3,4.5],[3.5,3.5],[4,5],[4.5,4],[5,3],[5.5,4.5],[6,5.5],[6.5,4.5],[7,6],[7.5,7.5],[8,6.5],[8.5,8],[9,7],[9.5,8.5],[10,7.5],[10.5,6.5],[11,7.5],[11.5,6],[12,7],[12.5,8],[13,7],[13.5,6],[14,5],[14.5,6.5],[15,5.5],[15.5,4.5],[16,3.5],[16.5,4],[17,2.5],[17.5,1.5],[18,2],[18.5,0.5],[19,-0.5],[19.5,0],[20,-1.5],[20.5,-1],[21,-2.5],[21.5,-3],[22,-2],[22.5,-3.5],[23,-4],[23.75,-4.5]]
green_g = [[0,0],[0.5,-1],[1,-0.5],[1.5,-1.5],[2,-1],[2.5,-2],[3,-1.5],[3.5,-3],[4,-2.5],[4.5,-3.5],[5,-2],[5.5,-1],[6,0],[6.5,-1],[7,0.5],[7.5,1.5],[8,1],[8.5,2],[9,1],[9.5,0],[10,-0.5],[10.5,0.5],[11,-0.5],[11.5,-1.5],[12,-1],[12.5,-2],[12.9,-1.5],[13,6],[13.5,7],[14,6],[14.5,5.5],[15,6.5],[15.5,5],[16,4],[16.5,4.5],[17,3.5],[17.5,2.5],[18,3],[18.5,2],[19,1],[19.5,1.5],[20,0.5],[20.5,-0.5],[21,0],[21.5,-1],[22,-1.5],[22.5,-1],[23,-2],[23.75,-1.5]]
dred_f = [[0,0],[0.5,-0.5],[1,0.5],[1.5,1.5],[2,1],[2.5,2],[3,1],[3.5,2.5],[4,1.5],[4.5,2.5],[5,1.5],[5.5,3],[6,2.5],[6.5,3.5],[7,4.5],[7.5,4],[8,5.5],[8.5,6.5],[9,5.5],[9.5,6.5],[10,7],[10.5,6],[11,5],[11.5,6],[12,5],[12.5,4],[13,4.5],[13.5,3.5],[14,2.5],[14.5,3.5],[15,3],[15.5,2],[16,1],[16.5,1.5],[17,0.5],[17.5,-0.5],[18,-1],[18.5,-0.5],[19,-1.5],[19.5,-2.5],[20,-2],[20.5,-3],[21,-3.5],[21.5,-3],[22,-4],[22.5,-4.5],[23,-5],[23.75,-5.5]]

# drawing order (first drawn = underneath)
draw_order = [
    (green_m93, GREEN), (cyan_c, CYAN), (lblue_c, LBLUE), (yellow_d, YELLOW),
    (dred_low, DRED), (magenta_c, MAGENTA), (green2, GREEN), (yellow_m10, YELLOW),
    (red_m12, RED), (lblue_m13, LBLUE), (cyan_m72, CYAN), (magenta_m56, MAGENTA),
    (red_c, RED), (green_c, GREEN), (blue_d, BLUE), (magenta_d, MAGENTA),
    (cyan_d, CYAN), (yellow_e, YELLOW), (dred_e, DRED), (lblue_e, LBLUE),
    (green_f, GREEN), (red_f, RED), (blue_e, BLUE), (green_g, GREEN), (dred_f, DRED),
    (magenta_b, MAGENTA), (black3, BLACK), (black2, BLACK), (black1, BLACK),
    (green_end_m3, GREEN), (blue_m2, BLUE), (red_end3, RED), (red_end57, RED),
    (green_mid, GREEN), (red_b, RED), (dred_hump, DRED), (blue_c, BLUE),
    (blue_end13, BLUE), (dred_end10, DRED), (yellow_c, YELLOW), (yellow_b, YELLOW),
    (green_hi, GREEN), (cyan_flat_zero, CYAN), (dred_flat_zero, DRED),
    (blue_mid_low, BLUE), (magenta_low, MAGENTA), (blue_low, BLUE),
    (lblue_second, LBLUE), (lblue_bottom, LBLUE), (cyan_flat_hi, CYAN),
    (yellow_peak, YELLOW), (cyan_top, CYAN), (red_top, RED), (blue_top, BLUE),
    (dred_peak, DRED),
]

FONT = "DejaVu Sans Mono"

fig = go.Figure()
for knots, color in draw_order:
    fig.add_trace(go.Scatter(
        x=[k[0] for k in knots], y=[k[1] for k in knots],
        mode="lines", line=dict(color=color, width=1),
        hoverinfo="skip", showlegend=False,
    ))

fig.update_layout(
    width=640, height=480,
    margin=dict(l=52, r=19, t=32, b=34),
    paper_bgcolor="white", plot_bgcolor="white",
    showlegend=False,
    font=dict(family=FONT, size=11, color="black"),
    annotations=[
        dict(text="Cumulative Z-Squared Value", xref="paper", yref="paper",
             x=0.5, y=1, yshift=17, showarrow=False, xanchor="center", yanchor="middle",
             font=dict(family=FONT, size=11.5, color="black")),
        dict(text="Hour of Day", xref="paper", yref="paper",
             x=0.5, y=0, yshift=-27, showarrow=False, xanchor="center", yanchor="middle",
             font=dict(family=FONT, size=11.5, color="black")),
        dict(text="Cumulative (Z*Z)-1", xref="paper", yref="paper",
             x=0, xshift=-40, y=0.5, textangle=-90, showarrow=False,
             xanchor="center", yanchor="middle",
             font=dict(family=FONT, size=11.5, color="black")),
    ],
)
fig.update_xaxes(
    range=[0, 23.75], tickmode="array", tickvals=x_ticks,
    ticktext=[str(t) for t in x_ticks],
    ticks="inside", ticklen=5, tickcolor="black", tickwidth=1,
    showline=True, linecolor="black", linewidth=1, mirror="ticks",
    showgrid=False, zeroline=False, ticklabelstandoff=3,
    tickfont=dict(family=FONT, size=11, color="black"),
)
fig.update_yaxes(
    range=[-40, 40], tickmode="array", tickvals=y_ticks,
    ticktext=[str(t) for t in y_ticks],
    ticks="inside", ticklen=5, tickcolor="black", tickwidth=1,
    showline=True, linecolor="black", linewidth=1, mirror="ticks",
    showgrid=False, zeroline=False, ticklabelstandoff=6,
    tickfont=dict(family=FONT, size=11, color="black"),
)

fig.write_html(
    "out.html",
    config={"displayModeBar": False, "staticPlot": True},
    post_script=(
        "document.body.style.margin='0px';"
        "document.body.style.overflow='hidden';"
        "var st=document.createElement('style');"
        "st.textContent='.scatterlayer path{shape-rendering:crispEdges;}';"
        "document.head.appendChild(st);"
    ),
)
